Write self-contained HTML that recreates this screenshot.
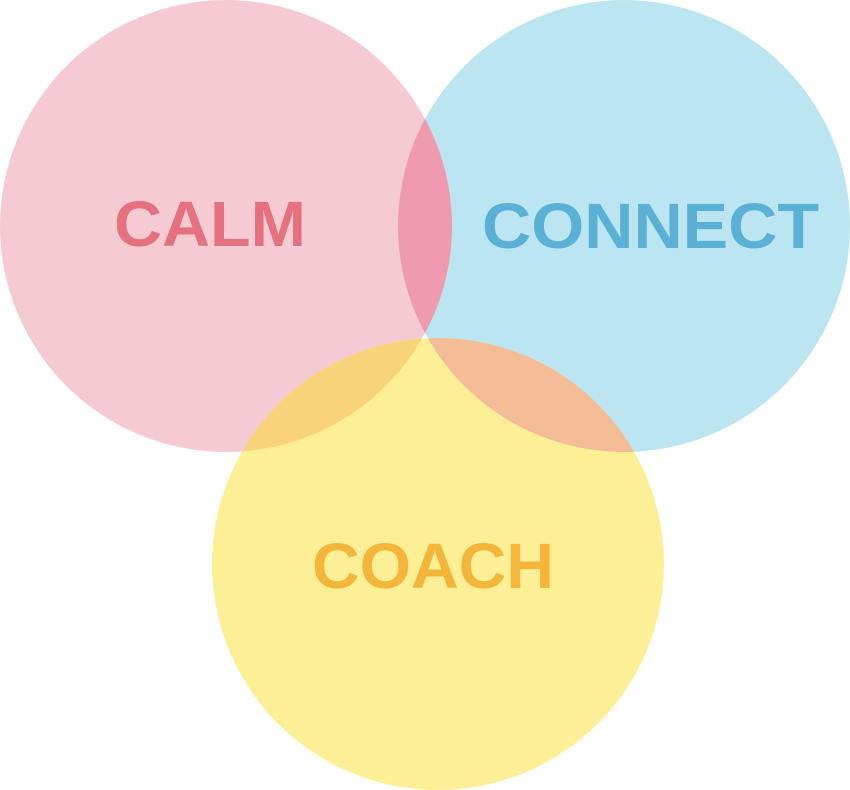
<!DOCTYPE html>
<html><head><style>html,body{margin:0;padding:0;background:#fff}svg{display:block}</style></head>
<body>
<svg width="850" height="790" viewBox="0 0 850 790" xmlns="http://www.w3.org/2000/svg">
<defs>
<clipPath id="p"><circle cx="226" cy="226" r="226"/></clipPath>
<clipPath id="b"><circle cx="624" cy="226" r="226"/></clipPath>
</defs>
<circle cx="226" cy="226" r="226" fill="#f5cad3"/>
<circle cx="624" cy="226" r="226" fill="#bbe5f1"/>
<circle cx="438" cy="564" r="226" fill="#fdef96"/>
<circle cx="624" cy="226" r="226" fill="#ef9aae" clip-path="url(#p)"/>
<circle cx="438" cy="564" r="226" fill="#f8d37a" clip-path="url(#p)"/>
<circle cx="438" cy="564" r="226" fill="#f4bc97" clip-path="url(#b)"/>
<g font-family="Liberation Sans, sans-serif" font-weight="bold" font-size="64">
<text x="114" y="246" fill="#e5707e" textLength="192" lengthAdjust="spacingAndGlyphs">CALM</text>
<text x="482" y="248" fill="#5bb0d6" textLength="337" lengthAdjust="spacingAndGlyphs">CONNECT</text>
<text x="312" y="588" fill="#f3b63b" textLength="242" lengthAdjust="spacingAndGlyphs">COACH</text>
</g>
</svg>
</body></html>
